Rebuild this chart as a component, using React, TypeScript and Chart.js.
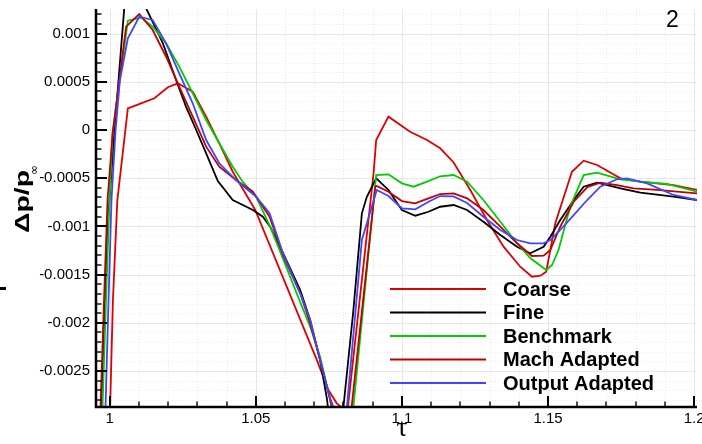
import React, { useEffect, useRef } from "react";
import { Chart, registerables } from "chart.js";

Chart.register(...registerables);

// ---------- data ----------
const seriesLabels = ["Coarse", "Fine", "Benchmark", "Mach Adapted", "Output Adapted"];
const seriesColors = ["#e00000", "#000000", "#00cc00", "#c00000", "#4444ff"];

const coarseTau = [0.99993, 1.0011, 1.0026, 1.0062, 1.0107, 1.0153, 1.0199, 1.0233, 1.0284, 1.033, 1.0375, 1.0421, 1.0498, 1.0709, 1.0749, 1.0777, 1.0795, 1.0815, 1.0903, 1.0912, 1.0954, 1.1028, 1.1086, 1.1131, 1.1177, 1.1234, 1.1291, 1.1348, 1.1405, 1.1445, 1.1474, 1.1494, 1.1525, 1.1582, 1.1622, 1.1668, 1.1748, 1.1816, 1.193, 1.201];
const coarseVal = [-0.00311, -0.00176, -0.00073, 0.000225, 0.000277, 0.000329, 0.000443, 0.000484, 0.000397, 0.000138, -0.000138, -0.000433, -0.00083, -0.002386, -0.0027, -0.002835, -0.00288, -0.00288, -0.000449, -0.000104, 0.000138, -0.000018, -0.000104, -0.00019, -0.000337, -0.000622, -0.000934, -0.00121, -0.001418, -0.001522, -0.001511, -0.00147, -0.000968, -0.000433, -0.000318, -0.000363, -0.000501, -0.000536, -0.000571, -0.000622];

const fineTau = [0.99695, 0.99719, 0.99839, 0.99942, 1.00158, 1.005, 1.0066, 1.0087, 1.0107, 1.0124, 1.0182, 1.0227, 1.0261, 1.0296, 1.033, 1.037, 1.0421, 1.049, 1.0524, 1.0549, 1.0583, 1.0652, 1.0686, 1.072, 1.0744, 1.0751, 1.0796, 1.08, 1.0834, 1.0846, 1.0863, 1.088, 1.0912, 1.0954, 1.1, 1.1046, 1.1091, 1.1131, 1.1177, 1.1223, 1.1279, 1.1337, 1.1394, 1.1439, 1.1485, 1.1508, 1.1542, 1.1588, 1.1622, 1.1668, 1.1748, 1.1816, 1.193, 1.201];
const fineVal = [-0.00301, -0.00287, -0.00176, -0.000934, -0.000031, 0.001276, 0.00161, 0.00174, 0.00161, 0.001266, 0.000899, 0.000519, 0.000242, 0, -0.000242, -0.000529, -0.000726, -0.00083, -0.000899, -0.001003, -0.001211, -0.00166, -0.001971, -0.002386, -0.0028, -0.00301, -0.00301, -0.00287, -0.001867, -0.001452, -0.000864, -0.000692, -0.000501, -0.000622, -0.00083, -0.000889, -0.000848, -0.000796, -0.000778, -0.00083, -0.000951, -0.001089, -0.001211, -0.001279, -0.001211, -0.001107, -0.000934, -0.000726, -0.000588, -0.000547, -0.000605, -0.00065, -0.000692, -0.000726];

const benchTau = [0.9973, 0.99753, 0.99873, 0.99993, 1.00096, 1.0062, 1.0107, 1.0147, 1.0193, 1.0238, 1.0284, 1.033, 1.0375, 1.0421, 1.0455, 1.0501, 1.0549, 1.0595, 1.064, 1.0686, 1.072, 1.0749, 1.076, 1.0765, 1.083, 1.0834, 1.0912, 1.0954, 1.1, 1.104, 1.1086, 1.1131, 1.1177, 1.1223, 1.1279, 1.1337, 1.1394, 1.144, 1.1494, 1.1514, 1.1536, 1.1576, 1.1622, 1.1668, 1.1748, 1.1816, 1.1907, 1.201];
const benchVal = [-0.00301, -0.00287, -0.00176, -0.000726, -0.000031, 0.001134, 0.001166, 0.001072, 0.000899, 0.000657, 0.000381, 0.000104, -0.000138, -0.000381, -0.000536, -0.000692, -0.001003, -0.001349, -0.001694, -0.00204, -0.002352, -0.002731, -0.00287, -0.00301, -0.00301, -0.00287, -0.000467, -0.00046, -0.000553, -0.000588, -0.000536, -0.00048, -0.000467, -0.000536, -0.000726, -0.000951, -0.001175, -0.001331, -0.001452, -0.0014, -0.001245, -0.000796, -0.000467, -0.000443, -0.000511, -0.000536, -0.00056, -0.00064];

const machTau = [0.9965, 0.99685, 0.99805, 0.99925, 1.001, 1.0056, 1.0101, 1.0147, 1.0193, 1.0238, 1.0284, 1.033, 1.0375, 1.0432, 1.049, 1.0547, 1.0595, 1.0652, 1.0686, 1.072, 1.0749, 1.076, 1.0765, 1.0823, 1.0828, 1.0909, 1.0914, 1.0954, 1.1, 1.1045, 1.1091, 1.1131, 1.1177, 1.1223, 1.1279, 1.1337, 1.1394, 1.1445, 1.1485, 1.1508, 1.1542, 1.1588, 1.1634, 1.1679, 1.1736, 1.1793, 1.1873, 1.201];
const machVal = [-0.00301, -0.00287, -0.00176, -0.000726, -0.000034, 0.001072, 0.001203, 0.001037, 0.00076, 0.000449, 0.000138, -0.000173, -0.000381, -0.000519, -0.00064, -0.000899, -0.001314, -0.001694, -0.002005, -0.002386, -0.002731, -0.00287, -0.00301, -0.00301, -0.00287, -0.000588, -0.00058, -0.00064, -0.000737, -0.00076, -0.000709, -0.000664, -0.000657, -0.000709, -0.00083, -0.001003, -0.001175, -0.001307, -0.001304, -0.001245, -0.001003, -0.000744, -0.000594, -0.000547, -0.000571, -0.000605, -0.000622, -0.000657];

const outputTau = [0.99833, 0.99856, 0.99959, 1.0006, 1.002, 1.0035, 1.0062, 1.0101, 1.0147, 1.0193, 1.0238, 1.0284, 1.033, 1.0375, 1.0432, 1.0501, 1.0547, 1.0595, 1.0652, 1.0686, 1.072, 1.0751, 1.0765, 1.077, 1.0807, 1.0812, 1.0863, 1.0914, 1.0954, 1.1, 1.1046, 1.1091, 1.1131, 1.1177, 1.1223, 1.1279, 1.1337, 1.1394, 1.1439, 1.1485, 1.1508, 1.1542, 1.1588, 1.1634, 1.1679, 1.1736, 1.177, 1.1839, 1.193, 1.201];
const outputVal = [-0.00301, -0.00287, -0.00176, -0.000726, 0, 0.000519, 0.000951, 0.001175, 0.001141, 0.000899, 0.000588, 0.000277, -0.000104, -0.000345, -0.000519, -0.000692, -0.000864, -0.001297, -0.001694, -0.001971, -0.002386, -0.002749, -0.00287, -0.00301, -0.00301, -0.00287, -0.001141, -0.000622, -0.000685, -0.000812, -0.000823, -0.000744, -0.000685, -0.000688, -0.000757, -0.000899, -0.001037, -0.001141, -0.001175, -0.001175, -0.001141, -0.001037, -0.000882, -0.000726, -0.000588, -0.000511, -0.000501, -0.000553, -0.000674, -0.000726];

const seriesTau = [coarseTau, fineTau, benchTau, machTau, outputTau];
const seriesVal = [coarseVal, fineVal, benchVal, machVal, outputVal];

const xTickValues = [1, 1.05, 1.1, 1.15, 1.2];
const xTickLabels = ["1", "1.05", "1.1", "1.15", "1.2"];
const yTickValues = [-0.0025, -0.002, -0.0015, -0.001, -0.0005, 0, 0.0005, 0.001];
const yTickLabels = ["-0.0025", "-0.002", "-0.0015", "-0.001", "-0.0005", "0", "0.0005", "0.001"];
const X_MIN = 0.9953;
const X_MAX = 1.201;
const Y_MIN = -0.002873;
const Y_MAX = 0.001255;
const xTitle = "τ";
const yTitle = "Δp/p";
const ySub = "∞";
const panelLabel = "2";

const SANS = '"Liberation Sans", Arial, Helvetica, sans-serif';

const decorPlugin = {
  id: "decor",
  beforeDatasetsDraw(chart: any) {
    const { ctx, chartArea: a } = chart;
    const xs = chart.scales.x;
    const ys = chart.scales.y;
    ctx.save();
    ctx.lineWidth = 1;
    for (let k = Math.ceil(xs.min * 100 - 1e-6); k <= Math.floor(xs.max * 100 + 1e-6); k++) {
      const px = Math.round(xs.getPixelForValue(k / 100)) + 0.5;
      const major = k % 5 === 0;
      ctx.strokeStyle = major ? "#e6e6e6" : "#e8e8e8";
      ctx.setLineDash(major ? [] : [1, 2]);
      ctx.beginPath();
      ctx.moveTo(px, a.top);
      ctx.lineTo(px, a.bottom);
      ctx.stroke();
    }
    for (let k = Math.ceil(ys.min * 10000 - 1e-6); k <= Math.floor(ys.max * 10000 + 1e-6); k++) {
      const py = Math.round(ys.getPixelForValue(k / 10000)) + 0.5;
      const major = k % 5 === 0;
      ctx.strokeStyle = major ? "#e6e6e6" : "#ececec";
      ctx.setLineDash(major ? [] : [1, 2]);
      ctx.beginPath();
      ctx.moveTo(a.left, py);
      ctx.lineTo(a.right, py);
      ctx.stroke();
    }
    ctx.restore();
  },
  afterDatasetsDraw(chart: any) {
    const { ctx, chartArea: a } = chart;
    const xs = chart.scales.x;
    const ys = chart.scales.y;
    ctx.save();
    ctx.setLineDash([]);
    ctx.strokeStyle = "#000";
    // axis lines
    ctx.lineWidth = 2.5;
    ctx.beginPath();
    ctx.moveTo(a.left, a.top);
    ctx.lineTo(a.left, a.bottom + 1.2);
    ctx.moveTo(a.left - 1.2, a.bottom);
    ctx.lineTo(a.right, a.bottom);
    ctx.stroke();
    // y ticks (inward)
    for (let k = Math.ceil(ys.min * 10000 - 1e-6); k <= Math.floor(ys.max * 10000 + 1e-6); k++) {
      const py = Math.round(ys.getPixelForValue(k / 10000));
      const major = k % 5 === 0;
      ctx.lineWidth = major ? 2 : 1.4;
      ctx.beginPath();
      ctx.moveTo(a.left, py);
      ctx.lineTo(a.left + (major ? 11 : 5.5), py);
      ctx.stroke();
    }
    for (let k = Math.ceil(xs.min * 100 - 1e-6); k <= Math.floor(xs.max * 100 + 1e-6); k++) {
      const px = Math.round(xs.getPixelForValue(k / 100));
      const major = k % 5 === 0;
      ctx.lineWidth = major ? 2 : 1.4;
      ctx.beginPath();
      ctx.moveTo(px, a.bottom);
      ctx.lineTo(px, a.bottom - (major ? 11 : 5.5));
      ctx.stroke();
    }
    // legend
    const legX1 = 390, legX2 = 486, legText = 503, legY0 = 289, legDy = 23.5;
    ctx.font = `bold 20px ${SANS}`;
    ctx.textAlign = "left";
    ctx.textBaseline = "middle";
    seriesLabels.forEach((lab, i) => {
      const yy = legY0 + i * legDy;
      ctx.strokeStyle = seriesColors[i];
      ctx.lineWidth = 2;
      ctx.beginPath();
      ctx.moveTo(legX1, yy);
      ctx.lineTo(legX2, yy);
      ctx.stroke();
      ctx.fillStyle = "#000";
      ctx.fillText(lab, legText, yy + 1);
    });
    // x title
    ctx.fillStyle = "#000";
    ctx.font = `27px "Liberation Serif", "Times New Roman", serif`;
    ctx.textAlign = "center";
    ctx.textBaseline = "alphabetic";
    ctx.fillText(xTitle, 402, 436);
    // panel label
    ctx.font = `23px ${SANS}`;
    ctx.fillText(panelLabel, 672.5, 27);
    // y title (rotated)
    ctx.save();
    ctx.translate(28.5, 201.5);
    ctx.rotate(-Math.PI / 2);
    ctx.font = `bold 20px ${SANS}`;
    const w = ctx.measureText(yTitle).width;
    const sx = 63 / w;
    ctx.save();
    ctx.scale(sx, 1);
    ctx.textAlign = "center";
    ctx.fillText(yTitle, 0, 0);
    ctx.restore();
    ctx.font = `12px "DejaVu Sans", sans-serif`;
    ctx.textAlign = "left";
    ctx.textBaseline = "middle";
    ctx.fillText(ySub, 63 / 2 - 5, 6.5);
    ctx.restore();
    // stray mark at the left edge
    ctx.fillStyle = "#000";
    ctx.fillRect(0, 287, 6, 3);
    ctx.restore();
  },
};

export default function App() {
  const ref = useRef<HTMLCanvasElement | null>(null);
  useEffect(() => {
    if (!ref.current) return;
    const datasets = seriesLabels.map((lab, i) => ({
      label: lab,
      data: seriesTau[i].map((t, j) => ({ x: t, y: seriesVal[i][j] })),
      borderColor: seriesColors[i],
      backgroundColor: seriesColors[i],
      borderWidth: 1.8,
      pointRadius: 0,
      tension: 0,
      fill: false,
      order: seriesLabels.length - i,
    }));
    const chart = new Chart(ref.current, {
      type: "line",
      data: { datasets },
      options: {
        animation: false,
        responsive: false,
        maintainAspectRatio: false,
        layout: { padding: { top: 9, right: 23, left: 0, bottom: 0 } },
        plugins: { legend: { display: false }, tooltip: { enabled: false }, title: { display: false } },
        scales: {
          x: {
            type: "linear",
            min: X_MIN,
            max: X_MAX,
            grid: { display: false, drawTicks: false },
            border: { display: false },
            afterFit: (s: any) => { s.height = 37; s.paddingLeft = 0; s.paddingRight = 0; },
            afterBuildTicks: (s: any) => { s.ticks = xTickValues.map((v) => ({ value: v })); },
            ticks: {
              autoSkip: false,
              maxRotation: 0,
              padding: 3,
              color: "#000",
              font: { family: SANS, size: 15 },
              callback: (_v: any, i: number) => xTickLabels[i],
            },
          },
          y: {
            type: "linear",
            min: Y_MIN,
            max: Y_MAX,
            grid: { display: false, drawTicks: false },
            border: { display: false },
            afterFit: (s: any) => { s.width = 96; s.paddingTop = 0; s.paddingBottom = 0; },
            afterBuildTicks: (s: any) => { s.ticks = yTickValues.map((v) => ({ value: v })); },
            ticks: {
              autoSkip: false,
              padding: 6,
              color: "#000",
              font: { family: SANS, size: 15 },
              callback: (_v: any, i: number) => yTickLabels[i],
            },
          },
        },
      } as any,
      plugins: [decorPlugin],
    });
    return () => chart.destroy();
  }, []);
  return (
    <div style={{ position: "absolute", left: 0, top: 0, width: 702, height: 444, overflow: "hidden", background: "#fff" }}>
      <canvas ref={ref} width={720} height={444} style={{ display: "block", width: 720, height: 444 }} />
    </div>
  );
}
